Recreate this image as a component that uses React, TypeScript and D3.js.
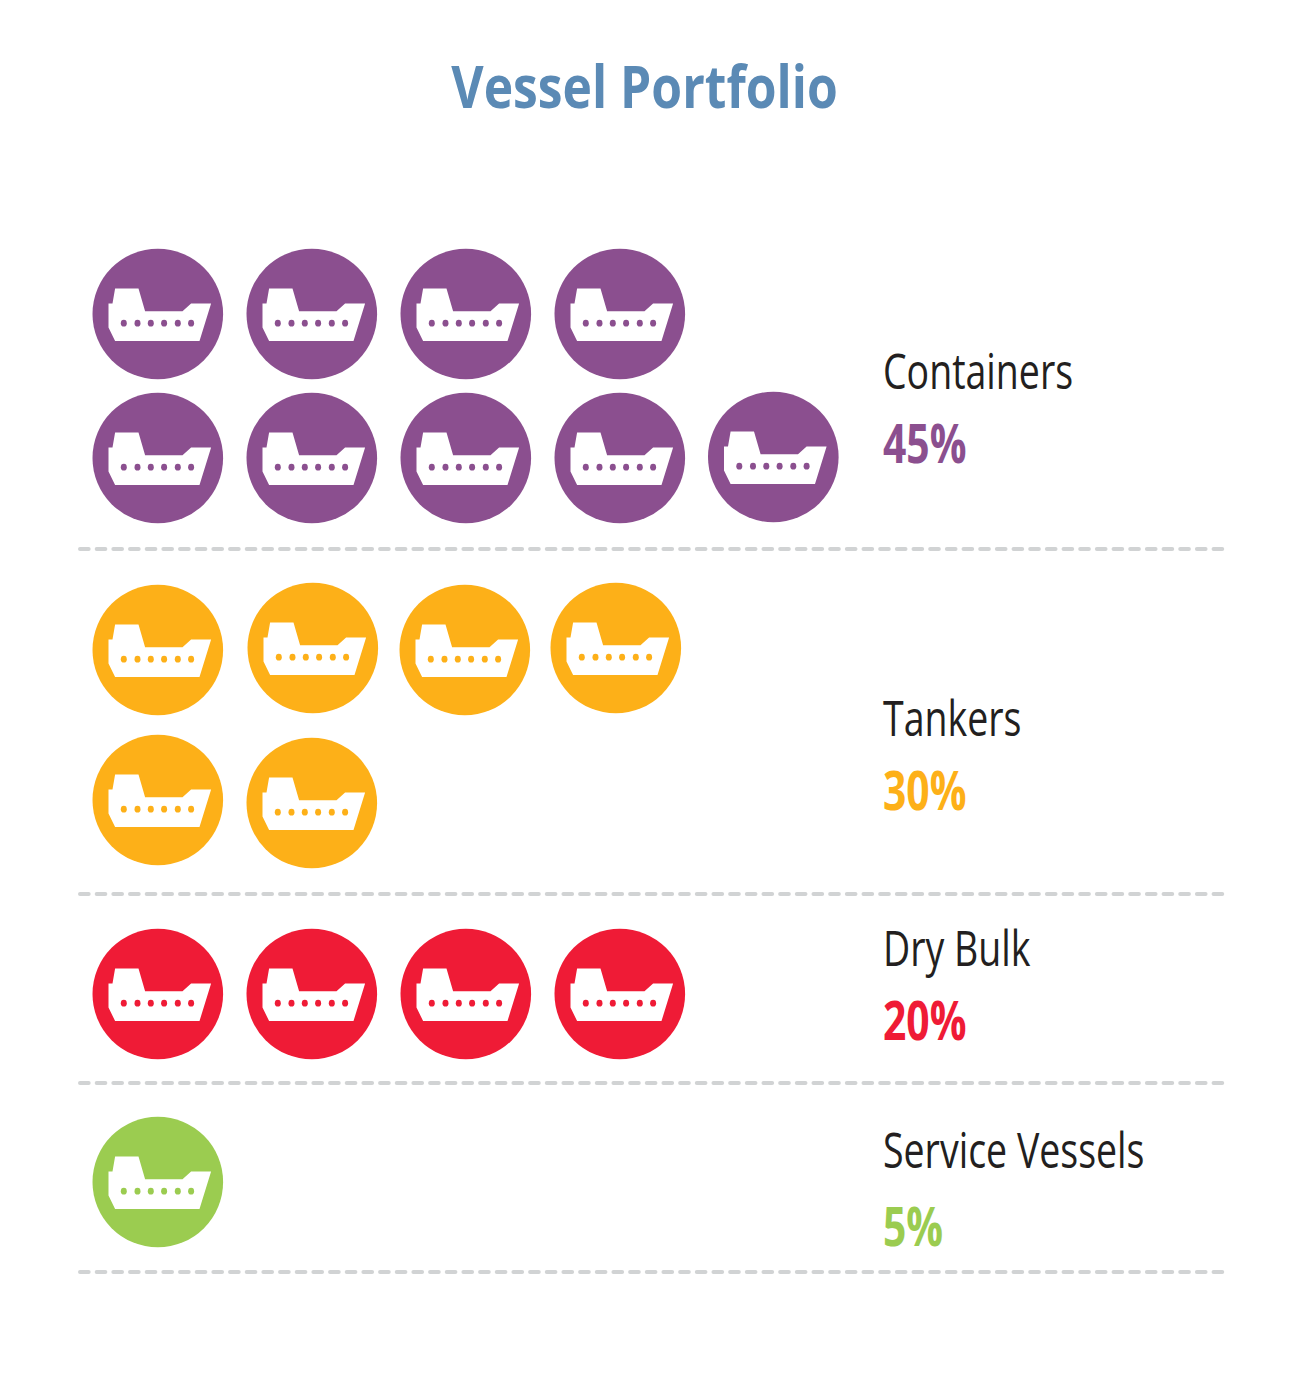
import { useEffect, useRef } from "react";
import * as d3 from "d3";

const title = "Vessel Portfolio";
const categories = ["Containers", "Tankers", "Dry Bulk", "Service Vessels"];
const shares = [45, 30, 20, 5];
const vesselCounts = [9, 6, 4, 1];
const colors = ["#8b4f8f", "#fdb018", "#ef1b36", "#9bcc50"];

// how many icons go in each row of a group
const rowSizes = [[4, 5], [4, 2], [4], [1]];

const WIDTH = 1289;
const HEIGHT = 1391;
const R = 65.3;

// ship outline, relative to circle centre
const hull: [number, number][] = [
  [-42.7, -25.5], [-19.3, -25.5], [-12.7, -2.8], [24.7, -2.8], [33.3, -10.5], [53.3, -10.5],
  [41.7, 27], [-42.7, 27], [-49.3, 13.5], [-49.3, -10.5], [-45.3, -10.5],
];
const portholes = [-34, -20.3, -7, 6.3, 20, 33.3];

// the icons in the tanker group sit a little off the grid
const nudges: Record<string, [number, number]> = {
  "1-1": [1, -2], "1-2": [-1, 0], "1-3": [-4, -2], "1-4": [0, -2], "1-5": [0, 1],
  "0-8": [-0.5, -1],
};

export default function App() {
  const ref = useRef<SVGSVGElement>(null);

  useEffect(() => {
    const svg = d3.select(ref.current);
    svg.selectAll("*").remove();

    const x = d3.scaleLinear().domain([0, 4]).range([157.8, 773.8]);
    const rowY = d3.scaleOrdinal<string, number>()
      .domain(["0-0", "0-1", "1-0", "1-1", "2-0", "3-0"])
      .range([314, 458, 650, 802, 994, 1182]);
    const labelY = d3.scaleOrdinal<string, number>().domain(categories).range([389, 736, 966, 1168]);
    const valueY = d3.scaleOrdinal<string, number>().domain(categories).range([463, 810, 1040, 1246]);
    const ruleY = d3.scaleOrdinal<string, number>().domain(categories).range([549, 894, 1083, 1272]);
    const outline = d3.line().curve(d3.curveLinearClosed);

    svg.append("text")
      .attr("transform", "translate(644.5,108) scale(0.83,1)")
      .attr("text-anchor", "middle")
      .attr("font-family", "'Open Sans'")
      .attr("font-weight", 700)
      .attr("font-size", 60)
      .attr("fill", "#5b8ab5")
      .text(title);

    categories.forEach((cat, c) => {
      const icons: { col: number; row: number; key: string }[] = [];
      let n = 0;
      rowSizes[c].forEach((size, row) => {
        d3.range(size).forEach((col) => {
          if (n < vesselCounts[c]) icons.push({ col, row, key: `${c}-${n}` });
          n++;
        });
      });

      const g = svg.selectAll(null)
        .data(icons)
        .enter()
        .append("g")
        .attr("transform", (d) => {
          const [dx, dy] = nudges[d.key] || [0, 0];
          return `translate(${x(d.col) + dx},${rowY(`${c}-${d.row}`) + dy})`;
        });
      g.append("circle").attr("r", R).attr("fill", colors[c]);
      g.append("path").attr("d", outline(hull)).attr("fill", "#fff");
      g.selectAll("ellipse")
        .data(portholes)
        .enter()
        .append("ellipse")
        .attr("cx", (d) => d)
        .attr("cy", 9.2)
        .attr("rx", 3)
        .attr("ry", 3.4)
        .attr("fill", colors[c]);

      svg.append("text")
        .attr("transform", `translate(883,${labelY(cat)}) scale(0.75,1)`)
        .attr("font-family", "'Open Sans'")
        .attr("font-size", 50)
        .attr("fill", "#231f20")
        .text(cat);

      svg.append("text")
        .attr("transform", `translate(883,${valueY(cat)}) scale(0.77,1)`)
        .attr("font-family", "'Open Sans'")
        .attr("font-weight", 700)
        .attr("font-size", 53)
        .attr("fill", colors[c])
        .text(`${shares[c]}%`);

      svg.append("line")
        .attr("x1", 80)
        .attr("x2", 1224)
        .attr("y1", ruleY(cat))
        .attr("y2", ruleY(cat))
        .attr("stroke", "#d1d3d4")
        .attr("stroke-width", 4)
        .attr("stroke-linecap", "round")
        .attr("stroke-dasharray", "8.67 8");
    });
  }, []);

  return (
    <svg
      ref={ref}
      width={WIDTH}
      height={HEIGHT}
      style={{ position: "absolute", left: 0, top: 0, display: "block", background: "#fff" }}
    />
  );
}
